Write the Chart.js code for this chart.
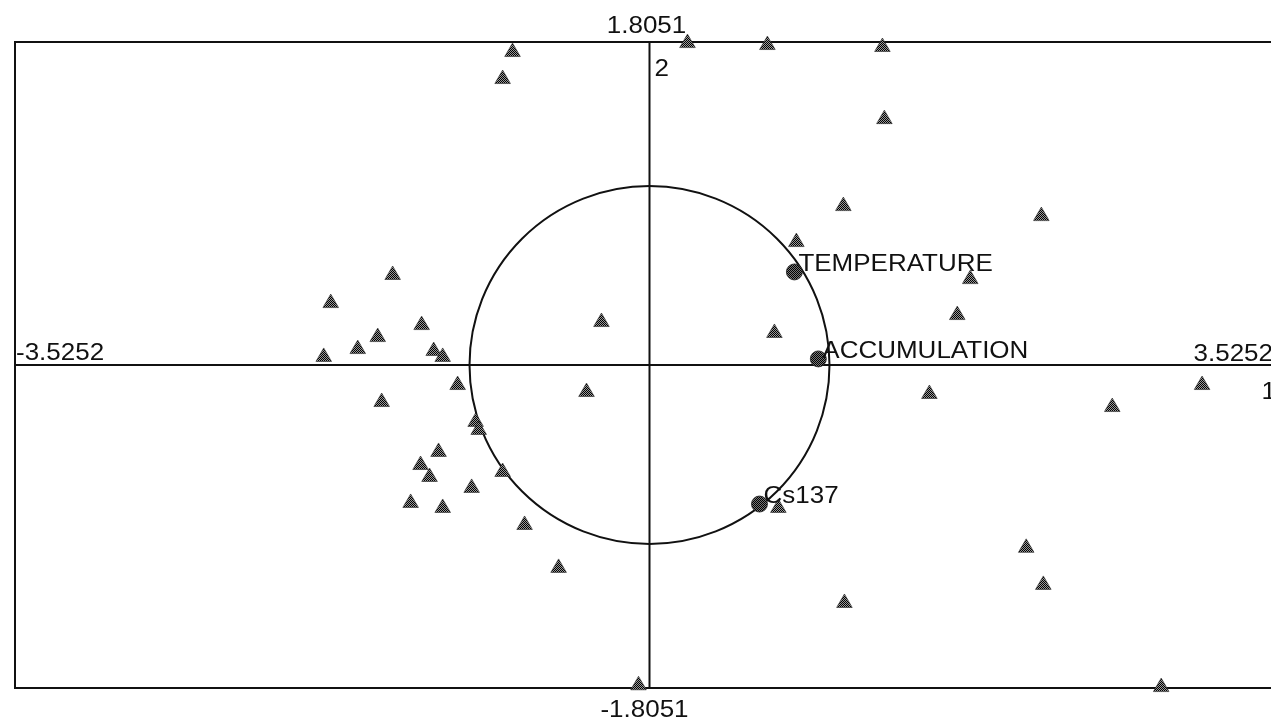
<!DOCTYPE html>
<html>
<head>
<meta charset="utf-8">
<script src="https://cdn.jsdelivr.net/npm/chart.js@4"></script>
<style>
  html, body { margin: 0; padding: 0; background: #fff; overflow: hidden; }
  #wrap { width: 1294px; height: 722px; }
</style>
</head>
<body>
<div id="wrap"><canvas id="biplot"></canvas></div>
<script>
// axis limits as printed on the plot
const xLimit = 3.5252;
const yLimit = 1.8051;
const xAxisName = '1';
const yAxisName = '2';

// observations (triangles), factor scores
const obsX = [
  -0.761, -0.816, 0.211, 0.655, 1.294, 1.305, 1.077, 2.177, 0.816, 1.782,
  1.710, 0.694, -0.267, -1.427, -1.771, -1.266, -1.510, -1.621, -1.810, -1.199,
  -1.149, -1.066, -1.488, -0.350, -0.966, -0.949, -1.172, -1.272, -1.222, -0.816,
  -0.988, -1.327, -1.149, -0.694, -0.505, 1.555, 2.571, 3.070, 0.716, 2.093,
  2.188, 1.083, -0.061, 2.843
];
const obsY = [
  1.749, 1.598, 1.799, 1.788, 1.777, 1.374, 0.888, 0.832, 0.687, 0.480,
  0.279, 0.179, 0.240, 0.503, 0.346, 0.223, 0.156, 0.089, 0.045, 0.078,
  0.045, -0.112, -0.207, -0.151, -0.318, -0.363, -0.486, -0.559, -0.626, -0.598,
  -0.687, -0.771, -0.799, -0.894, -1.134, -0.162, -0.235, -0.112, -0.799, -1.022,
  -1.229, -1.330, -1.790, -1.800
];

// variables (circles on the correlation circle)
const varNames = ['TEMPERATURE', 'ACCUMULATION', 'Cs137'];
const varX = [0.805, 0.938, 0.611];
const varY = [0.520, 0.034, -0.777];

const canvas = document.getElementById('biplot');
const textFont = '23px "Liberation Sans", Arial, sans-serif';

// checker pattern to look like the old dithered print
function ditherPattern(dark, light) {
  const c = document.createElement('canvas');
  c.width = 2;
  c.height = 2;
  const g = c.getContext('2d');
  g.fillStyle = light;
  g.fillRect(0, 0, 2, 2);
  g.fillStyle = dark;
  g.fillRect(0, 0, 1, 1);
  g.fillRect(1, 1, 1, 1);
  return canvas.getContext('2d').createPattern(c, 'repeat');
}

function stretchText(ctx, text, px, py, align) {
  ctx.save();
  ctx.translate(px, py);
  ctx.scale(1.13, 1);
  ctx.textAlign = align;
  ctx.textBaseline = 'alphabetic';
  ctx.fillText(text, 0, 0);
  ctx.restore();
}

const biplotFrame = {
  id: 'biplotFrame',
  beforeDatasetsDraw(chart) {
    const {ctx, chartArea: a, scales: {x, y}} = chart;
    const x0 = x.getPixelForValue(0);
    const y0 = y.getPixelForValue(0);
    ctx.save();
    ctx.strokeStyle = '#111';
    ctx.lineWidth = 2;
    ctx.strokeRect(a.left, a.top, a.right - a.left, a.bottom - a.top);
    ctx.beginPath();
    ctx.moveTo(a.left, y0);
    ctx.lineTo(a.right, y0);
    ctx.moveTo(x0, a.top);
    ctx.lineTo(x0, a.bottom);
    ctx.stroke();
    // unit correlation circle
    const rx = x.getPixelForValue(1) - x0;
    const ry = y0 - y.getPixelForValue(1);
    ctx.beginPath();
    ctx.ellipse(x0, y0, rx, ry, 0, 0, Math.PI * 2);
    ctx.stroke();
    ctx.restore();
  },
  afterDatasetsDraw(chart) {
    const {ctx, chartArea: a, scales: {x, y}} = chart;
    const x0 = x.getPixelForValue(0);
    const y0 = y.getPixelForValue(0);
    ctx.save();
    ctx.font = textFont;
    ctx.fillStyle = '#111';
    stretchText(ctx, String(yLimit), x0 - 3, a.top - 9, 'center');
    stretchText(ctx, yAxisName, x0 + 5, a.top + 34, 'left');
    stretchText(ctx, '-' + xLimit, a.left + 1, y0 - 5, 'left');
    stretchText(ctx, String(xLimit), a.right - 11, y0 - 4, 'right');
    stretchText(ctx, xAxisName, a.right - 8, y0 + 34, 'right');
    stretchText(ctx, '-' + yLimit, x0 - 5, a.bottom + 29, 'center');
    chart.getDatasetMeta(1).data.forEach((el, i) => {
      stretchText(ctx, varNames[i], el.x + 4, el.y - 1, 'left');
    });
    ctx.restore();
  }
};

const dataBiplot = {
  datasets: [{
    label: 'observations',
    data: obsX.map((v, i) => ({x: v, y: obsY[i]})),
    pointStyle: 'triangle',
    pointRadius: 9,
    backgroundColor: ditherPattern('#000', '#9a9a9a'),
    borderColor: 'rgba(40, 40, 40, 0.6)',
    borderWidth: 1,
    clip: false
  }, {
    label: 'variables',
    data: varX.map((v, i) => ({x: v, y: varY[i]})),
    pointStyle: 'circle',
    pointRadius: 8,
    backgroundColor: ditherPattern('#000', '#777'),
    borderColor: 'rgba(30, 30, 30, 0.8)',
    borderWidth: 1,
    clip: false
  }]
};

const configBiplot = {
  type: 'scatter',
  data: dataBiplot,
  plugins: [biplotFrame],
  options: {
    responsive: true,
    maintainAspectRatio: false,
    animation: false,
    layout: {
      padding: {left: 15, top: 42, right: 5, bottom: 34}
    },
    plugins: {
      legend: {display: false},
      tooltip: {enabled: false}
    },
    scales: {
      x: {type: 'linear', min: -xLimit, max: xLimit, display: false},
      y: {type: 'linear', min: -yLimit, max: yLimit, display: false}
    }
  }
};

const biplotChart = new Chart(canvas, configBiplot);
</script>
</body>
</html>
